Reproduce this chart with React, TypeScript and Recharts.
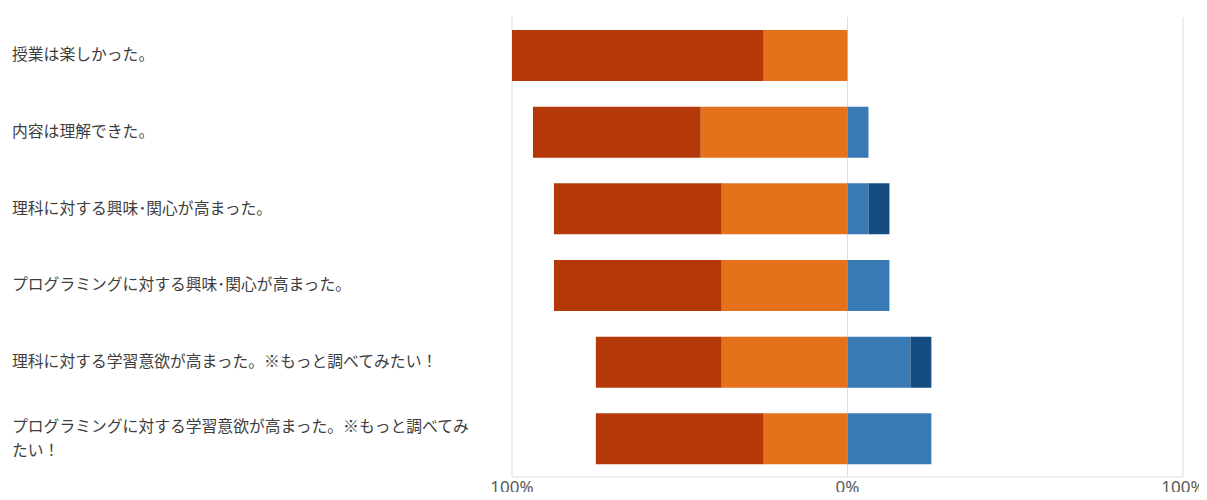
import { BarChart, Bar, XAxis, YAxis, CartesianGrid } from "recharts";

const questions = [
  "授業は楽しかった。",
  "内容は理解できた。",
  "理科に対する興味･関心が高まった。",
  "プログラミングに対する興味･関心が高まった。",
  "理科に対する学習意欲が高まった。※もっと調べてみたい！",
  "プログラミングに対する学習意欲が高まった。※もっと調べてみたい！",
];

// percentages of answers per question
const strongAgree = [75, 50, 50, 50, 37.5, 50];
const agree = [25, 43.75, 37.5, 37.5, 37.5, 25];
const disagree = [0, 6.25, 6.25, 12.5, 18.75, 25];
const strongDisagree = [0, 0, 6.25, 0, 6.25, 0];

const xTicks = [-100, 0, 100];

const data = questions.map((q, i) => ({
  q,
  agree: -agree[i],
  strongAgree: -strongAgree[i],
  disagree: disagree[i],
  strongDisagree: strongDisagree[i],
}));

const MAX_CHARS = 29;

function QuestionTick({ y, payload }: any) {
  const text: string = payload.value;
  const lines: string[] = [];
  for (let i = 0; i < text.length; i += MAX_CHARS) lines.push(text.slice(i, i + MAX_CHARS));
  const lh = 24;
  const start = -((lines.length - 1) * lh) / 2;
  return (
    <text x={12} y={y} textAnchor="start" fill="#3d3d3d" fontSize={15.8} fontFamily="'Noto Sans CJK JP', sans-serif">
      {lines.map((l, i) => (
        <tspan key={i} x={12} dy={i === 0 ? start + 5 : lh}>
          {l}
        </tspan>
      ))}
    </text>
  );
}

export default function App() {
  return (
    <div style={{ margin: -8, width: 1207, height: 500, overflow: "hidden" }}>
      <style>{`html,body{overflow:hidden} .recharts-surface{overflow:visible}`}</style>
      <BarChart
        width={1207}
        height={500}
        data={data}
        layout="vertical"
        stackOffset="sign"
        barSize={51}
        margin={{ top: 17, right: 24, bottom: 0, left: 0 }}
      >
        <CartesianGrid horizontal={false} stroke="#dedede" />
        <XAxis
          type="number"
          domain={[-100, 100]}
          ticks={xTicks}
          tickFormatter={(v: number) => `${Math.abs(v)}%`}
          tickLine={false}
          tickSize={0}
          tickMargin={4}
          height={23}
          axisLine={{ stroke: "#dedede" }}
          tick={{ fontSize: 17, fill: "#595959", fontFamily: "'Noto Sans', sans-serif" }}
        />
        <YAxis type="category" dataKey="q" width={512} axisLine={false} tickLine={false} tick={<QuestionTick />} interval={0} />
        <Bar dataKey="agree" stackId="a" fill="#E5711A" name="そう思う" isAnimationActive={false} />
        <Bar dataKey="strongAgree" stackId="a" fill="#B53908" name="とてもそう思う" isAnimationActive={false} />
        <Bar dataKey="disagree" stackId="a" fill="#3A7AB4" name="あまりそう思わない" isAnimationActive={false} />
        <Bar dataKey="strongDisagree" stackId="a" fill="#154C82" name="そう思わない" isAnimationActive={false} />
      </BarChart>
    </div>
  );
}
